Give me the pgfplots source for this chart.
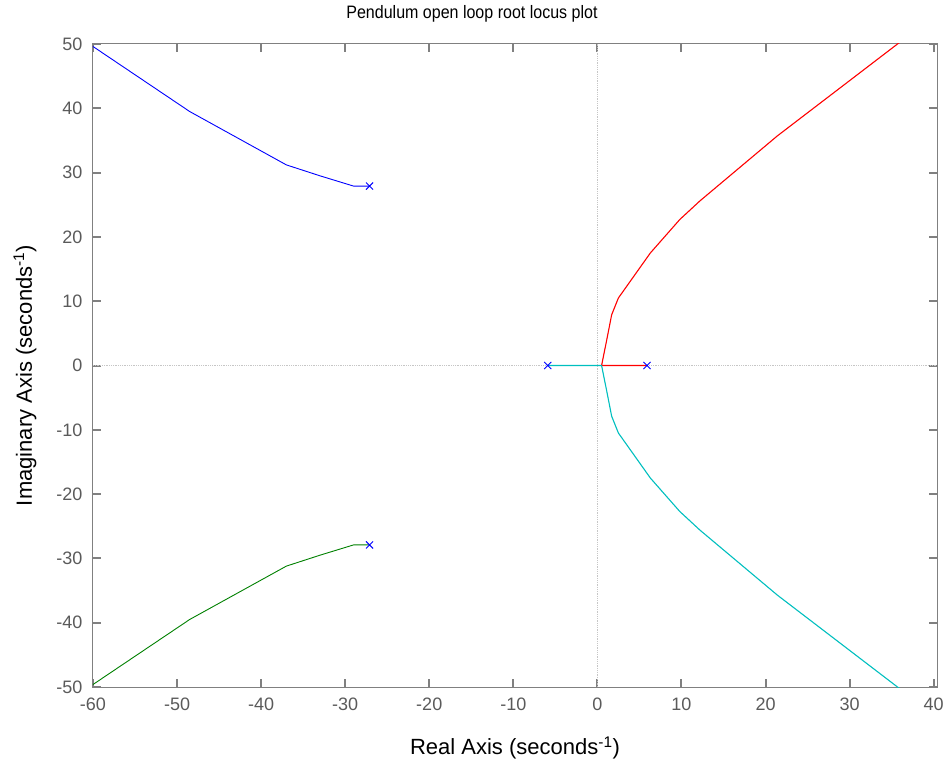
\documentclass[border=0pt]{standalone}
\usepackage{pgfplots}
\pgfplotsset{compat=1.18}
\usepackage{fontspec}
\setmainfont{Liberation Sans}
\definecolor{mblue}{RGB}{0,0,255}
\definecolor{mgreen}{RGB}{0,128,0}
\definecolor{mred}{RGB}{255,0,0}
\definecolor{mcyan}{RGB}{0,191,191}
\definecolor{axgray}{RGB}{128,128,128}
\definecolor{lblgray}{RGB}{90,90,90}
\begin{document}
\begin{tikzpicture}
\begin{axis}[
  name=ax,
  scale only axis,
  width=844pt, height=643pt,
  xmin=-60, xmax=40.4, ymin=-50, ymax=50,
  xtick={-60,-50,...,40}, ytick={-50,-40,...,50},
  tick align=inside,
  major tick length=8pt,
  xtick style={draw=axgray, line width=2pt},
  ytick style={draw=axgray, line width=2pt},
  every axis/.append style={axgray, line width=1pt},
  tick label style={font=\fontsize{18}{20}\selectfont, text=lblgray, inner sep=0pt, /pgf/number format/assume math mode=true},
  xticklabel style={anchor=north, yshift=-10pt},
  yticklabel style={anchor=east, xshift=-10pt},
  title={\scalebox{0.89}[1]{Pendulum open loop root locus plot}},
  title style={text=black, font=\fontsize{18}{20}\selectfont, at={(axis description cs:0.449,1.0373)}, anchor=center},
  xlabel={Real Axis (seconds\textsuperscript{-1})},
  ylabel={Imaginary Axis (seconds\textsuperscript{-1})},
  label style={text=black, font=\fontsize{22}{24}\selectfont},
  xlabel style={at={(axis description cs:0.5,-0.0949)}, anchor=center},
  ylabel style={at={(axis description cs:-0.0806,0.4844)}, anchor=center},
]
% zero lines
\addplot[gray!45, densely dotted, line width=0.8pt] coordinates {(0,-50) (0,50)};
\addplot[gray!45, densely dotted, line width=0.8pt] coordinates {(-60,0) (40.4,0)};
% branches
\addplot[mblue, line width=0.9pt] coordinates {(-27.1,27.9) (-29.0,27.9) (-33.0,29.5) (-37.0,31.2) (-48.5,39.5) (-60.1,49.7)};
\addplot[mgreen, line width=0.9pt] coordinates {(-27.1,-27.9) (-29.0,-27.9) (-33.0,-29.5) (-37.0,-31.2) (-48.5,-39.5) (-60.1,-49.7)};
\addplot[mred, line width=1.1pt] coordinates {(5.9,0) (0.5,0) (1.1,3.9) (1.7,7.9) (2.5,10.5) (6.3,17.5) (9.8,22.7) (12.2,25.6) (21.4,35.7) (36.0,50.3)};
\addplot[mcyan, line width=1.1pt] coordinates {(-5.9,0) (0.5,0) (1.1,-3.9) (1.7,-7.9) (2.5,-10.5) (6.3,-17.5) (9.8,-22.7) (12.2,-25.6) (21.4,-35.7) (36.0,-50.3)};
% poles
\addplot[only marks, mark=x, mark size=5pt, mark options={mblue, line width=1pt}] coordinates {(-27.1,27.9) (-27.1,-27.9) (-5.9,0) (5.9,0)};
\end{axis}
\path ([xshift=-93pt,yshift=-78pt]ax.south west) rectangle ([xshift=11pt,yshift=44pt]ax.north east);
\end{tikzpicture}
\end{document}
